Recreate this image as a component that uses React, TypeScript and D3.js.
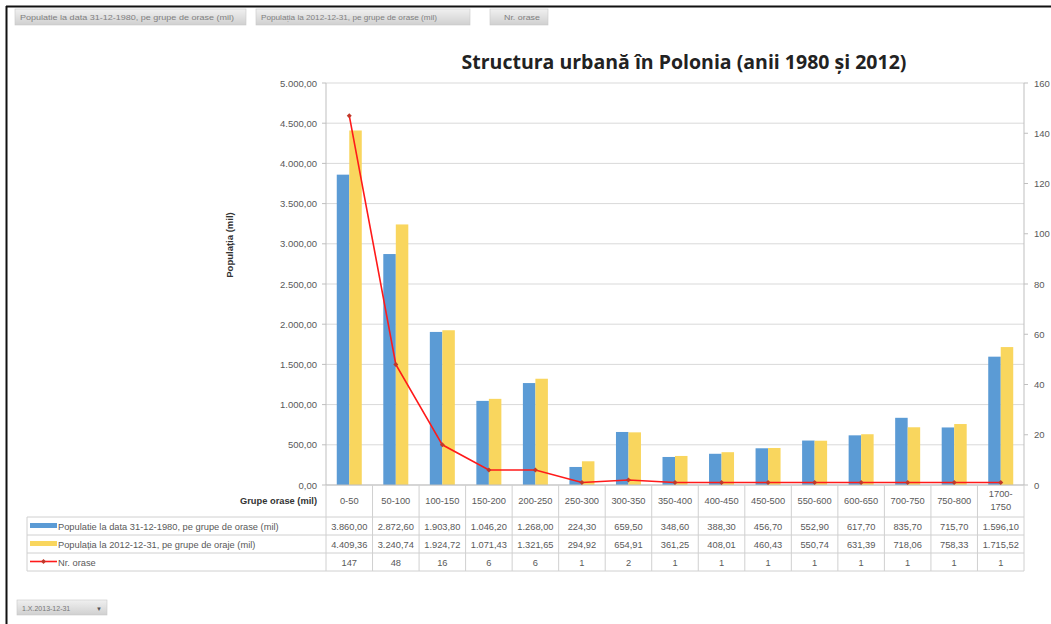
import React from "react";
import * as d3 from "d3";

const categories = ["0-50","50-100","100-150","150-200","200-250","250-300","300-350","350-400","400-450","450-500","550-600","600-650","700-750","750-800","1700-1750"];
const pop1980 = [3860.00,2872.60,1903.80,1046.20,1268.00,224.30,659.50,348.60,388.30,456.70,552.90,617.70,835.70,715.70,1596.10];
const pop2012 = [4409.36,3240.74,1924.72,1071.43,1321.65,294.92,654.91,361.25,408.01,460.43,550.74,631.39,718.06,758.33,1715.52];
const nrOrase = [147,48,16,6,6,1,2,1,1,1,1,1,1,1,1];
const leftTicks = [0,500,1000,1500,2000,2500,3000,3500,4000,4500,5000];
const rightTicks = [0,20,40,60,80,100,120,140,160];
const seriesNames = [
  "Populatie la data 31-12-1980, pe grupe de orase (mil)",
  "Populația la  2012-12-31, pe grupe de oraje (mil)",
  "Nr. orase",
];
const buttonLabels = [
  "Populatie la data 31-12-1980, pe grupe de orase (mil)",
  "Populația la 2012-12-31, pe grupe de orase (mil)",
  "Nr. orase",
];
const title = "Structura urbană în Polonia (anii 1980 și 2012)";
const yTitle = "Populația (mil)";
const xTitle = "Grupe orase (mil)";
const filterLabel = "1.X.2013-12-31";

const BLUE = "#5B9BD5";
const YELLOW = "#F9D65E";
const RED = "#FF1A1A";
const FONT = "'Liberation Sans', Arial, sans-serif";
const TXT = "#595959";

const fmt = (v: number) => {
  const s = v.toFixed(2);
  const [i, d] = s.split(".");
  return i.replace(/\B(?=(\d{3})+(?!\d))/g, ".") + "," + d;
};

export default function App() {
  const W = 1051, H = 624;
  const left = 326, right = 1024, top = 83, bottom = 485;
  const x = d3.scaleBand<string>().domain(categories).range([left, right]);
  const bw = x.bandwidth();
  const x1 = d3.scaleBand<string>().domain(["a", "b"]).range([bw / 2 - 12.5, bw / 2 + 12.5]);
  const y = d3.scaleLinear().domain([0, 5000]).range([bottom, top]);
  const y2 = d3.scaleLinear().domain([0, 160]).range([bottom, top]);
  const line = d3.line<number>().x((_, i) => (x(categories[i]) as number) + bw / 2).y((d) => y2(d));

  const tableTop = 517;
  const rowH = 18;
  const rows = [tableTop, tableTop + rowH, tableTop + 2 * rowH, tableTop + 3 * rowH];
  const legendLeft = 27;
  const FS = 9.3;

  const buttons = [
    { x0: 15, x1: 246, tl: 214 },
    { x0: 256, x1: 470, tl: 176 },
    { x0: 490, x1: 548, tl: 36 },
  ];

  return (
    <svg width={W} height={H} style={{ position: "absolute", left: 0, top: 0, background: "#fff" }} fontFamily={FONT}>
      <defs>
        <linearGradient id="btn" x1="0" y1="0" x2="0" y2="1">
          <stop offset="0" stopColor="#F0F0F0" />
          <stop offset="1" stopColor="#D0D0D0" />
        </linearGradient>
      </defs>
      <rect x={0} y={0} width={W} height={H} fill="#fff" />
      {/* frame */}
      <line x1={6} x2={W} y1={6.5} y2={6.5} stroke="#111" strokeWidth={2} />
      <line x1={6.5} x2={6.5} y1={6} y2={H} stroke="#111" strokeWidth={2} />

      {/* field buttons */}
      {buttons.map((b, i) => (
        <g key={i}>
          <rect x={b.x0} y={9} width={b.x1 - b.x0} height={16} fill="url(#btn)" stroke="#C8C8C8" strokeWidth={0.6} />
          <text x={i === 2 ? b.x0 + 14 : b.x0 + 5} y={20} fontSize={7.5} fill="#808080" textLength={b.tl} lengthAdjust="spacingAndGlyphs">{buttonLabels[i]}</text>
        </g>
      ))}

      {/* title */}
      <text x={684} y={69} textAnchor="middle" fontSize={19.5} fontWeight="bold" fill="#222" fontFamily="'Open Sans', sans-serif">{title}</text>

      {/* gridlines */}
      {leftTicks.map((t) => (
        <line key={t} x1={left} x2={right} y1={y(t)} y2={y(t)} stroke="#D9D9D9" strokeWidth={1} />
      ))}
      {/* left axis */}
      <line x1={left} x2={left} y1={top} y2={bottom} stroke="#BFBFBF" />
      {leftTicks.map((t) => (
        <g key={"l" + t}>
          <line x1={left - 4} x2={left} y1={y(t)} y2={y(t)} stroke="#BFBFBF" />
          <text x={317} y={y(t) + 3.5} textAnchor="end" fontSize={9.5} fill={TXT}>{fmt(t)}</text>
        </g>
      ))}
      {/* right axis */}
      <line x1={right} x2={right} y1={top} y2={bottom} stroke="#BFBFBF" />
      {rightTicks.map((t) => (
        <g key={"r" + t}>
          <line x1={right} x2={right + 4} y1={y2(t)} y2={y2(t)} stroke="#BFBFBF" />
          <text x={1034} y={y2(t) + 3.5} fontSize={9.5} fill={TXT}>{t}</text>
        </g>
      ))}
      <text transform={`translate(233,245) rotate(-90)`} textAnchor="middle" fontSize={9.5} fontWeight="bold" fill="#333">{yTitle}</text>

      {/* bars */}
      {categories.map((c, i) => (
        <g key={c}>
          <rect x={(x(c) as number) + (x1("a") as number)} y={y(pop1980[i])} width={x1.bandwidth()} height={bottom - y(pop1980[i])} fill={BLUE} />
          <rect x={(x(c) as number) + (x1("b") as number)} y={y(pop2012[i])} width={x1.bandwidth()} height={bottom - y(pop2012[i])} fill={YELLOW} />
        </g>
      ))}
      <line x1={left} x2={right} y1={bottom} y2={bottom} stroke="#BFBFBF" />

      {/* line */}
      <path d={line(nrOrase) || ""} fill="none" stroke={RED} strokeWidth={1.6} />
      {nrOrase.map((v, i) => {
        const cx = (x(categories[i]) as number) + bw / 2;
        const cy = y2(v);
        return <path key={i} d={`M${cx},${cy - 2.5}L${cx + 2.5},${cy}L${cx},${cy + 2.5}L${cx - 2.5},${cy}Z`} fill="#C0392B" />;
      })}

      {/* data table */}
      <text x={317} y={504} textAnchor="end" fontSize={FS} fontWeight="bold" fill="#333">{xTitle}</text>
      {categories.map((c, i) => {
        const cx = (x(c) as number) + bw / 2;
        const parts = c === "1700-1750" ? ["1700-", "1750"] : [c];
        return (
          <g key={"h" + c}>
            {parts.map((p, k) => (
              <text key={k} x={cx} y={parts.length === 1 ? 504 : 497 + k * 13} textAnchor="middle" fontSize={FS} fill={TXT}>{p}</text>
            ))}
            <text x={cx} y={rows[0] + 12.5} textAnchor="middle" fontSize={FS} fill={TXT}>{fmt(pop1980[i])}</text>
            <text x={cx} y={rows[1] + 12.5} textAnchor="middle" fontSize={FS} fill={TXT}>{fmt(pop2012[i])}</text>
            <text x={cx} y={rows[2] + 12.5} textAnchor="middle" fontSize={FS} fill={TXT}>{nrOrase[i]}</text>
          </g>
        );
      })}
      {/* table grid */}
      {rows.map((ry, i) => (
        <line key={"hr" + i} x1={legendLeft} x2={right} y1={ry} y2={ry} stroke="#D0D0D0" />
      ))}
      <line x1={legendLeft} x2={legendLeft} y1={rows[0]} y2={rows[3]} stroke="#D0D0D0" />
      {categories.map((c) => (
        <line key={"v" + c} x1={x(c) as number} x2={x(c) as number} y1={bottom} y2={rows[3]} stroke="#D0D0D0" />
      ))}
      <line x1={right} x2={right} y1={bottom} y2={rows[3]} stroke="#D0D0D0" />

      {/* legend keys */}
      <rect x={30} y={rows[0] + 6} width={27} height={5} fill={BLUE} />
      <rect x={30} y={rows[1] + 6} width={27} height={5} fill={YELLOW} />
      <line x1={30} x2={57} y1={rows[2] + 8.5} y2={rows[2] + 8.5} stroke={RED} strokeWidth={1.6} />
      <path d={`M43.5,${rows[2] + 6}L46,${rows[2] + 8.5}L43.5,${rows[2] + 11}L41,${rows[2] + 8.5}Z`} fill="#C0392B" />
      {seriesNames.map((s, i) => (
        <text key={s} x={58} y={rows[i] + 12.5} fontSize={FS} fill={TXT}>{s}</text>
      ))}

      {/* filter button */}
      <rect x={17} y={600} width={90} height={15} fill="url(#btn)" stroke="#C8C8C8" strokeWidth={0.6} />
      <text x={22} y={610.5} fontSize={7} fill="#777">{filterLabel}</text>
      <text x={96} y={610.5} fontSize={6} fill="#555">▼</text>
    </svg>
  );
}
